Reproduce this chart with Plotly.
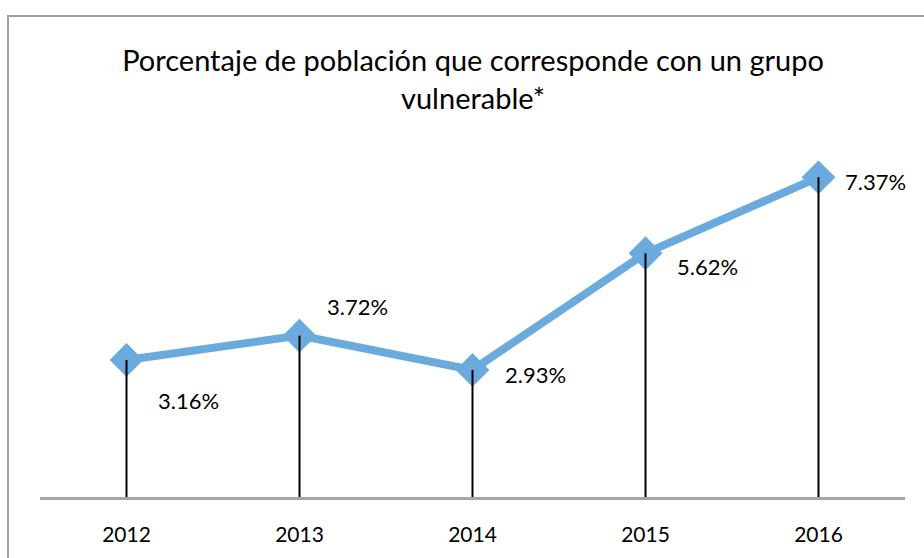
import plotly.graph_objects as go

years = ["2012", "2013", "2014", "2015", "2016"]
values = [3.16, 3.72, 2.93, 5.62, 7.37]
labels = ["3.16%", "3.72%", "2.93%", "5.62%", "7.37%"]
title_text = "Porcentaje de población que corresponde con un grupo<br>vulnerable*"

FONT = "Lato"
W, H = 924, 558
ML, MR, MT, MB = 40, 19, 150, 53
PW = W - ML - MR
PH = H - MT - MB

fig = go.Figure()

fig.add_trace(go.Scatter(
    x=years, y=values, mode="lines+markers",
    line=dict(color="#6aaadd", width=8),
    marker=dict(symbol="diamond", size=26, color="#6aaadd"),
    hoverinfo="skip", showlegend=False,
))

# drop lines
dx, dy = [], []
for xv, yv in zip(years, values):
    dx += [xv, xv, None]
    dy += [yv, 0, None]
fig.add_trace(go.Scatter(
    x=dx, y=dy, mode="lines",
    line=dict(color="black", width=2),
    hoverinfo="skip", showlegend=False,
))

# label offsets (pixels) per point
offs = [(62, -41), (58, 29), (63, -5), (62, -13), (57, -4)]
for i, (yv, t, (ox, oy)) in enumerate(zip(values, labels, offs)):
    fig.add_annotation(x=i, y=yv, xref="x", yref="y", text=t, showarrow=False,
                       xshift=ox, yshift=oy,
                       font=dict(family=FONT, size=22, color="black"))

# outer border
fig.add_shape(type="rect", xref="paper", yref="paper",
              x0=(8 - ML) / PW, x1=(940 - ML) / PW,
              y0=(H - 570 - MB) / PH, y1=(H - 13 - MB) / PH,
              line=dict(color="#a0a0a0", width=2), fillcolor="rgba(0,0,0,0)",
              layer="below")

fig.update_layout(
    width=W, height=H,
    margin=dict(l=ML, r=MR, t=MT, b=MB),
    paper_bgcolor="white", plot_bgcolor="white",
    title=dict(text=title_text, x=0.512, xanchor="center", y=1 - 71 / H, yanchor="top",
               font=dict(family=FONT, size=29, color="black")),
    xaxis=dict(type="category", range=[-0.5, 4.5], showgrid=False,
               showline=True, linecolor="#a6a6a6", linewidth=2.5,
               ticks="outside", ticklen=17, tickcolor="rgba(0,0,0,0)",
               tickfont=dict(family=FONT, size=21, color="black"), fixedrange=True),
    yaxis=dict(range=[0, 8], showgrid=False, showticklabels=False, zeroline=False,
               showline=False, fixedrange=True),
    font=dict(family=FONT),
)

fig.write_html("out.html", config={"displayModeBar": False},
               post_script="document.body.style.margin='0';document.body.style.overflow='hidden';")
